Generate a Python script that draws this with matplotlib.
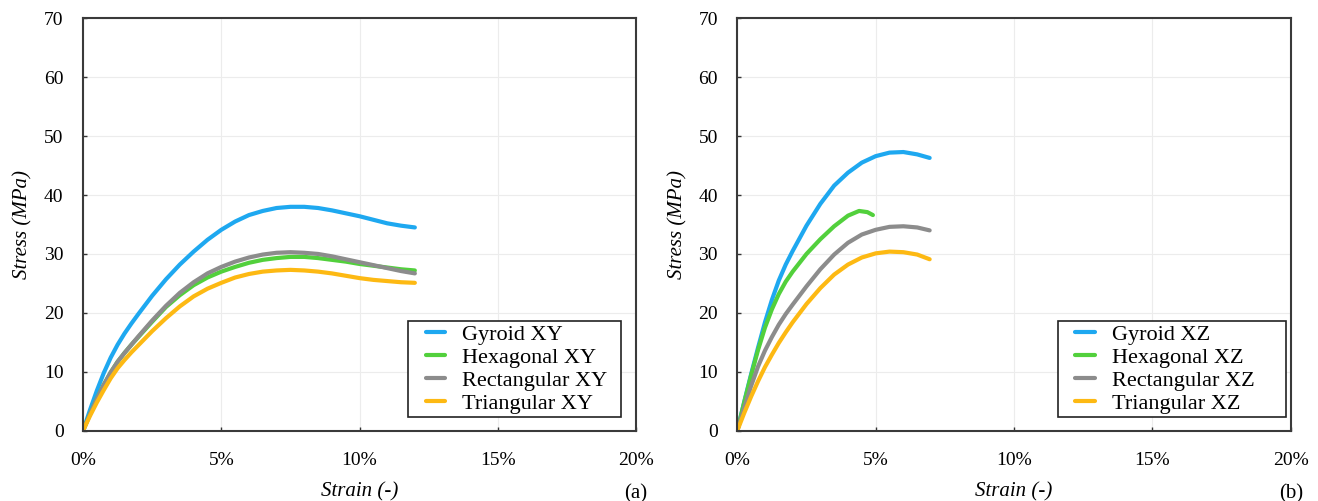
import numpy as np
import matplotlib
matplotlib.use("Agg")
import matplotlib.pyplot as plt
from matplotlib.lines import Line2D
from matplotlib.legend_handler import HandlerLine2D
from matplotlib.ticker import FuncFormatter, MultipleLocator

plt.rcParams['font.family'] = ['Liberation Serif', 'DejaVu Serif']

# strain in %, stress in MPa
strain_xy = [0, 0.25, 0.5, 0.75, 1, 1.25, 1.5, 1.75, 2, 2.5, 3, 3.5, 4, 4.5, 5, 5.5,
             6, 6.5, 7, 7.5, 8, 8.5, 9, 9.5, 10, 10.5, 11, 11.5, 12]
gyroid_xy = [0, 3.5, 6.8, 9.8, 12.4, 14.6, 16.5, 18.2, 19.8, 22.9, 25.7, 28.2, 30.4, 32.4,
             34.1, 35.5, 36.6, 37.3, 37.8, 38.0, 38.0, 37.8, 37.4, 36.9, 36.4, 35.8, 35.2,
             34.8, 34.5]
hexagonal_xy = [0, 2.8, 5.4, 7.8, 9.9, 11.7, 13.2, 14.6, 15.9, 18.5, 21.0, 23.0, 24.7, 26.0,
                27.0, 27.8, 28.5, 29.0, 29.3, 29.5, 29.5, 29.3, 29.0, 28.7, 28.3, 28.0, 27.7,
                27.4, 27.2]
rectangular_xy = [0, 2.8, 5.4, 7.8, 9.9, 11.7, 13.2, 14.6, 16.0, 18.7, 21.2, 23.4, 25.2,
                  26.7, 27.8, 28.7, 29.4, 29.9, 30.2, 30.3, 30.2, 30.0, 29.6, 29.1, 28.6,
                  28.1, 27.6, 27.1, 26.7]
triangular_xy = [0, 2.5, 4.8, 6.9, 8.9, 10.6, 12.0, 13.3, 14.5, 16.9, 19.1, 21.1, 22.8, 24.1,
                 25.1, 26.0, 26.6, 27.0, 27.2, 27.3, 27.2, 27.0, 26.7, 26.3, 25.9, 25.6, 25.4,
                 25.2, 25.1]

strain_xz = [0, 0.25, 0.5, 0.75, 1, 1.25, 1.5, 1.75, 2, 2.5, 3, 3.5, 4, 4.5, 5, 5.5, 6,
             6.5, 6.95]
gyroid_xz = [0, 4.9, 9.6, 14.1, 18.4, 22.2, 25.5, 28.2, 30.5, 34.8, 38.5, 41.6, 43.8, 45.5,
             46.6, 47.2, 47.3, 46.9, 46.3]
strain_hex_xz = [0, 0.25, 0.5, 0.75, 1, 1.25, 1.5, 1.75, 2, 2.5, 3, 3.5, 4, 4.4, 4.7, 4.9]
hexagonal_xz = [0, 4.8, 9.4, 13.7, 17.5, 20.6, 23.2, 25.3, 27.0, 30.0, 32.5, 34.7, 36.5,
                37.3, 37.1, 36.6]
rectangular_xz = [0, 3.9, 7.6, 10.9, 13.6, 15.9, 18.0, 19.8, 21.4, 24.5, 27.4, 29.9, 31.9,
                  33.3, 34.1, 34.6, 34.7, 34.5, 34.0]
triangular_xz = [0, 3.0, 5.8, 8.4, 10.8, 12.9, 14.9, 16.7, 18.4, 21.5, 24.2, 26.5, 28.2,
                 29.4, 30.1, 30.4, 30.3, 29.9, 29.1]

names = ['Gyroid', 'Hexagonal', 'Rectangular', 'Triangular']
colors = ['#1ea8f0', '#52d03c', '#8c8c8c', '#fdb913']


class ShortLine(HandlerLine2D):
    # legend line drawn only in the right part of the handle box
    def get_xdata(self, legend, xdescent, ydescent, width, height, fontsize):
        x = np.array([-xdescent + 0.43 * width, -xdescent + width])
        return x, x


fig = plt.figure(figsize=(13.18, 5.01), dpi=100)
ax1 = fig.add_axes([0.0630, 0.1403, 0.4196, 0.8232])
ax2 = fig.add_axes([0.5594, 0.1403, 0.4200, 0.8232])

panels = [
    (ax1, 'XY', [(strain_xy, gyroid_xy), (strain_xy, hexagonal_xy),
                 (strain_xy, rectangular_xy), (strain_xy, triangular_xy)], '(a)', 0.973, 2),
    (ax2, 'XZ', [(strain_xz, gyroid_xz), (strain_hex_xz, hexagonal_xz),
                 (strain_xz, rectangular_xz), (strain_xz, triangular_xz)], '(b)', 0.991, 5),
]

for ax, orient, series, tag, legx, nsp in panels:
    for (x, y), name, c in zip(series, names, colors):
        ax.plot(x, y, color=c, lw=3.0, label=f'{name} {orient}' + ' ' * nsp,
                solid_capstyle='round', solid_joinstyle='round')
    ax.set_xlim(0, 20)
    ax.set_ylim(0, 70)
    ax.xaxis.set_major_locator(MultipleLocator(5))
    ax.yaxis.set_major_locator(MultipleLocator(10))
    ax.xaxis.set_major_formatter(FuncFormatter(lambda v, p: f'{v:.0f}%'))
    ax.grid(True, color='#ececec', lw=0.8)
    ax.set_axisbelow(True)
    ax.tick_params(direction='in', length=3, width=1, labelsize=14, color='#333333')
    ax.tick_params(axis='y', pad=14)
    ax.tick_params(axis='x', pad=15)
    for s in ax.spines.values():
        s.set_color('#3a3a3a')
        s.set_linewidth(1.5)
    ax.set_xlabel('Strain (-)', fontsize=15, style='italic', labelpad=10)
    ax.set_ylabel('Stress (MPa)', fontsize=15, style='italic', labelpad=8)
    ax.text(1.0, -0.152, tag, transform=ax.transAxes, ha='center', va='center', fontsize=15)
    leg = ax.legend(loc='lower right', bbox_to_anchor=(legx, 0.033), borderaxespad=0,
                    fontsize=16, frameon=True, fancybox=False, framealpha=1,
                    handlelength=1.52, handletextpad=0.77, labelspacing=0.11,
                    borderpad=0.15, handler_map={Line2D: ShortLine()})
    leg.get_frame().set_edgecolor('#222222')
    leg.get_frame().set_linewidth(1.2)

fig.savefig('out.png', dpi=100)
